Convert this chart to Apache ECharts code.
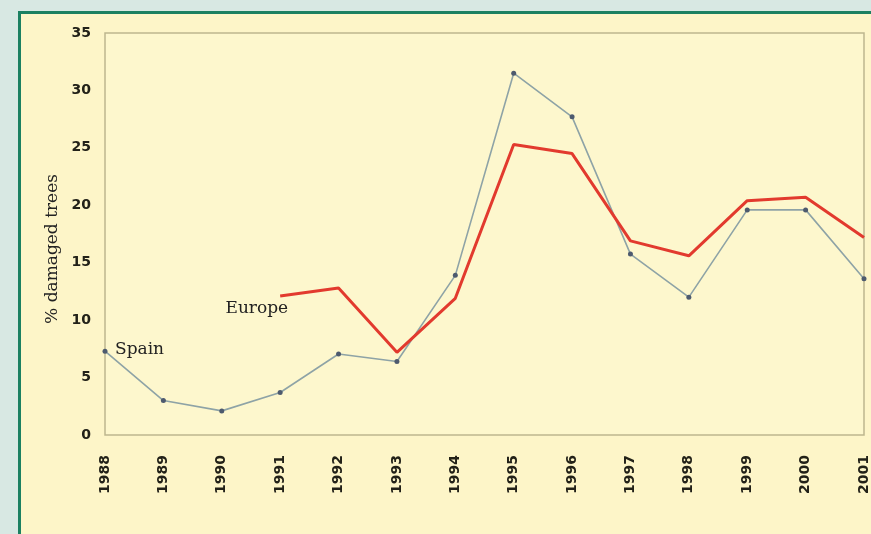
<!DOCTYPE html>
<html><head><meta charset="utf-8">
<script src="https://cdn.jsdelivr.net/npm/echarts@6/dist/echarts.min.js"></script>
<style>html,body{margin:0;padding:0;background:#d8e8e3;}#c{width:871px;height:534px;}</style>
</head><body><div id="c"></div>
<script>
const years = ['1988','1989','1990','1991','1992','1993','1994','1995','1996','1997','1998','1999','2000','2001'];
const spain = [7.3, 3.0, 2.1, 3.7, 7.05, 6.4, 13.9, 31.5, 27.7, 15.75, 12.0, 19.6, 19.6, 13.6];
const europe = [null, null, null, 12.1, 12.8, 7.2, 11.9, 25.3, 24.5, 16.9, 15.6, 20.4, 20.7, 17.2];
const yTitle = '% damaged trees';
const spainLabel = 'Spain';
const europeLabel = 'Europe';

const chart = echarts.init(document.getElementById('c'));
const grid = {left: 105, right: 5, top: 33, bottom: 99};
const serif = 'DejaVu Serif';
chart.setOption({
  backgroundColor: '#d8e8e3',
  animation: false,
  graphic: [
    {type:'rect', z:-10, shape:{x:18, y:11, width:900, height:600}, style:{fill:'#1b8061'}},
    {type:'rect', z:-9, shape:{x:21, y:14, width:900, height:600}, style:{fill:'#fdf5c8'}}
  ],
  grid: Object.assign({show:true, backgroundColor:'#fdf7cd', borderColor:'#bdb68e', borderWidth:1.5}, grid),
  xAxis: {
    type:'category', data: years, boundaryGap:false,
    axisLine:{show:false}, axisTick:{show:false}, splitLine:{show:false},
    axisLabel:{rotate:90, margin:20, color:'#222118', fontFamily:'DejaVu Sans', fontWeight:'bold', fontSize:14}
  },
  yAxis: {
    type:'value', min:0, max:35, interval:5,
    name: yTitle, nameLocation:'middle', nameGap:43, nameRotate:90,
    nameTextStyle:{fontFamily:serif, fontSize:17, color:'#222', padding:[0,30,0,0]},
    axisLine:{show:false}, axisTick:{show:false}, splitLine:{show:false},
    axisLabel:{margin:14, color:'#222118', fontFamily:'DejaVu Sans', fontWeight:'bold', fontSize:14}
  },
  series: [
    {
      name: spainLabel, type:'line', data: spain,
      lineStyle:{color:'#8ea3a6', width:1.6},
      symbol:'circle', symbolSize:5, showAllSymbol:true,
      itemStyle:{color:'#4d5a6e'},
      label:{show:false},
      markPoint:{
        symbol:'rect', symbolSize:0,
        data:[{coord:['1988', spain[0]], label:{show:true, formatter: spainLabel, position:'right', offset:[5,-2], fontFamily:serif, fontSize:17, color:'#222'}}]
      },
      z:2
    },
    {
      name: europeLabel, type:'line', data: europe, connectNulls:false,
      lineStyle:{color:'#e23a2e', width:3},
      symbol:'none',
      markPoint:{
        symbol:'rect', symbolSize:0,
        data:[{coord:['1991', europe[3]], label:{show:true, formatter: europeLabel, position:'left', offset:[13,13], fontFamily:serif, fontSize:17, color:'#222'}}]
      },
      z:3
    }
  ]
});
</script></body></html>
